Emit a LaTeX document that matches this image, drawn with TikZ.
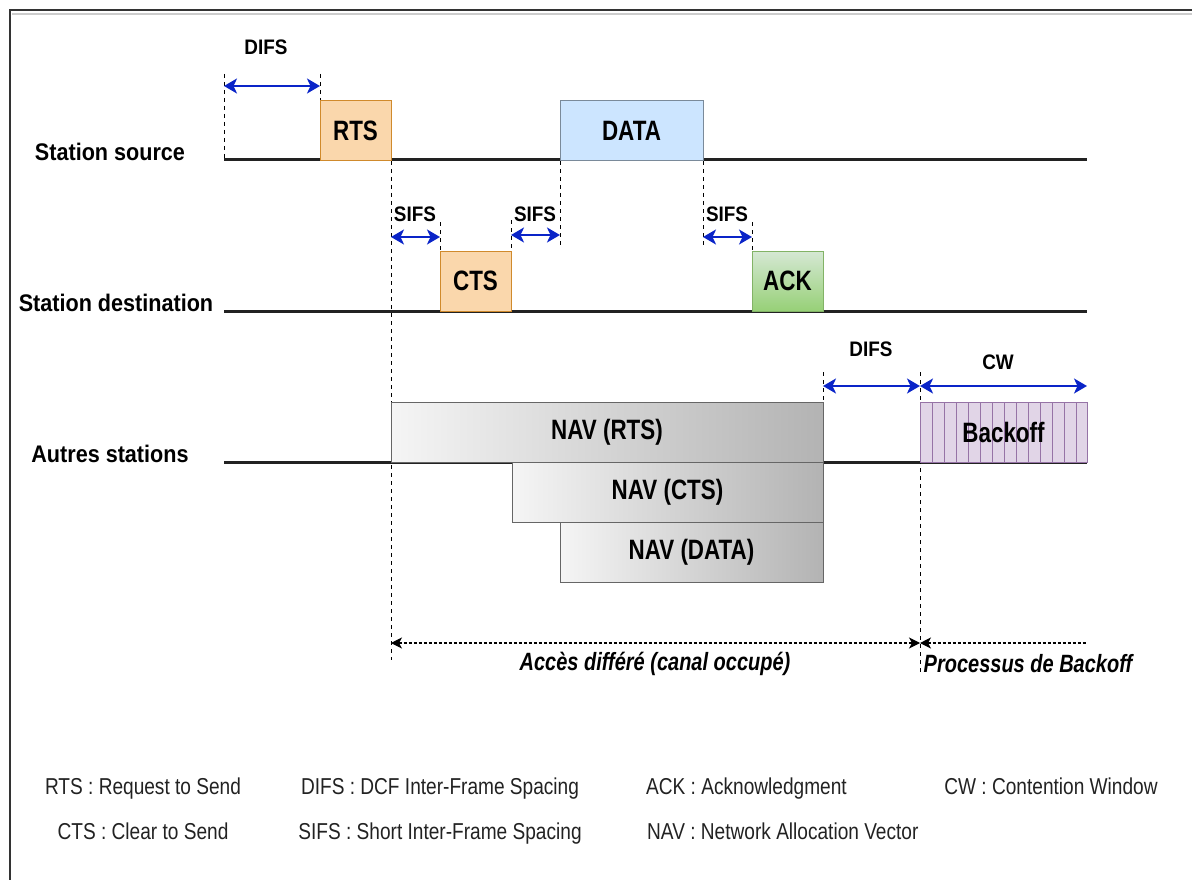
\documentclass[tikz,border=0pt]{standalone}
\usepackage{fontspec}
\setmainfont{Liberation Sans}[FakeStretch=0.9]
\newfontfamily\condfont{Liberation Sans}[FakeStretch=0.8]
\newfontfamily\legendfont{Liberation Sans}[FakeStretch=0.83]
\usetikzlibrary{arrows.meta}

\definecolor{orfill}{HTML}{FAD7AC}
\definecolor{ordraw}{HTML}{D08A2C}
\definecolor{blfill}{HTML}{CCE5FF}
\definecolor{bldraw}{HTML}{7A8A9A}
\definecolor{grtop}{HTML}{D5E8D4}
\definecolor{grbot}{HTML}{97D077}
\definecolor{grdraw}{HTML}{82B366}
\definecolor{navl}{HTML}{F5F5F5}
\definecolor{navr}{HTML}{B3B3B3}
\definecolor{navdraw}{HTML}{666666}
\definecolor{pufill}{HTML}{E1D5E7}
\definecolor{pudraw}{HTML}{9673A6}
\definecolor{arrowblue}{HTML}{0A24C8}
\definecolor{linedark}{HTML}{222222}
\definecolor{legendtxt}{HTML}{222222}

\begin{document}
\begin{tikzpicture}[x=1pt,y=-1pt,
  frame/.style={draw, line width=1pt, inner sep=0pt, outer sep=0pt,
    font=\condfont\bfseries\fontsize{28}{30}\selectfont},
  orbox/.style={frame, fill=orfill, draw=ordraw},
  navbox/.style={frame, left color=navl, right color=navr, draw=navdraw},
  timeline/.style={draw=linedark, line width=3pt},
  guide/.style={draw=black, line width=0.8pt, dash pattern=on 4pt off 4pt},
  span/.style={draw=arrowblue, line width=2pt,
    {Stealth[length=13pt,width=15pt,inset=3.5pt]}-{Stealth[length=13pt,width=15pt,inset=3.5pt]}},
  spanlbl/.style={font=\bfseries\fontsize{21}{24}\selectfont, inner sep=0pt},
  phase/.style={draw=black, line width=1.1pt, dash pattern=on 3pt off 2pt,
    >={Stealth[length=11pt,width=11pt,inset=3pt]}},
  phaselbl/.style={font=\condfont\bfseries\itshape\fontsize{25}{28}\selectfont, inner sep=0pt},
  station/.style={font=\bfseries\fontsize{24}{27}\selectfont, inner sep=0pt},
  legend/.style={text=legendtxt, font=\legendfont\fontsize{23}{26}\selectfont,
    inner sep=0pt, text height=17pt, text depth=5pt}
]
\useasboundingbox (0,0) rectangle (1192,880);

% outer frame
\coordinate (fa) at (12,14);  \coordinate (fb) at (1192,14);
\draw[line width=2pt, draw=black!20] (fa) -- (fb);
\coordinate (fc) at (10,10);  \coordinate (fd) at (1192,10);  \coordinate (fe) at (10,880);
\draw[line width=2pt, draw=black!80] (fd) -- (fc) -- (fe);

% station names
\node[station] (lsrc) at (110,152) {Station source};
\node[station] (ldst) at (116,303) {Station destination};
\node[station] (loth) at (110,454) {Autres stations};

% time axes
\coordinate (s0) at (224,160); \coordinate (s1) at (1087,160);
\coordinate (d0) at (224,311); \coordinate (d1) at (1087,311);
\coordinate (o0) at (224,462); \coordinate (o1) at (1087,462);
\draw[timeline] (s0) -- (s1);
\draw[timeline] (d0) -- (d1);
\draw[timeline] (o0) -- (o1);

% vertical guides
\coordinate (g1a) at (224,74);  \coordinate (g1b) at (224,160);
\coordinate (g2a) at (320,74);  \coordinate (g2b) at (320,101);
\coordinate (g3a) at (391,161); \coordinate (g3b) at (391,660);
\coordinate (g4a) at (440,222); \coordinate (g4b) at (440,251);
\coordinate (g5a) at (511,220); \coordinate (g5b) at (511,251);
\coordinate (g6a) at (560,161); \coordinate (g6b) at (560,248);
\coordinate (g7a) at (703,161); \coordinate (g7b) at (703,248);
\coordinate (g8a) at (752,222); \coordinate (g8b) at (752,251);
\coordinate (g9a) at (823,372); \coordinate (g9b) at (823,402);
\coordinate (g10a) at (920,372); \coordinate (g10b) at (920,672);
\foreach \g in {1,...,10} \draw[guide] (g\g a) -- (g\g b);

% frames
\node[orbox, minimum width=71pt, minimum height=60pt] (rts) at (355.5,131) {RTS};
\node[frame, fill=blfill, draw=bldraw, minimum width=143pt, minimum height=60pt] (data) at (631.5,131) {DATA};
\node[orbox, minimum width=71pt, minimum height=60pt] (cts) at (475.5,281) {CTS};
\node[frame, top color=grtop, bottom color=grbot, draw=grdraw, minimum width=71pt, minimum height=60pt] (ack) at (787.5,281) {ACK};

% NAV reservations
\node[navbox, minimum width=432pt, minimum height=60pt] (navrts) at (607,432) {NAV (RTS)};
\node[navbox, minimum width=311pt, minimum height=60pt] (navcts) at (667.5,492) {NAV (CTS)};
\node[navbox, minimum width=263pt, minimum height=60pt] (navdata) at (691.5,552) {NAV (DATA)};

% backoff slots
\node[frame, fill=pufill, draw=pudraw, minimum width=167pt, minimum height=60pt] (bo) at (1003.5,432) {};
\foreach \i in {1,...,13}
  \draw[draw=pudraw, line width=0.8pt] ([xshift=12*\i pt]bo.north west) -- ([xshift=12*\i pt]bo.south west);
\node[frame, draw=none, fill=none] (bolbl) at (bo.center) {Backoff};

% interframe spaces
\coordinate (a1a) at (224,86);  \coordinate (a1b) at (320,86);
\coordinate (a2a) at (391,237); \coordinate (a2b) at (440,237);
\coordinate (a3a) at (511,235); \coordinate (a3b) at (560,235);
\coordinate (a4a) at (703,237); \coordinate (a4b) at (752,237);
\coordinate (a5a) at (823,386); \coordinate (a5b) at (920,386);
\coordinate (a6a) at (920,386); \coordinate (a6b) at (1087,386);
\foreach \a in {1,...,6} \draw[span] (a\a a) -- (a\a b);
\node[spanlbl] (difs1) at (266,47) {DIFS};
\node[spanlbl] (sifs1) at (415,214) {SIFS};
\node[spanlbl] (sifs2) at (535,214) {SIFS};
\node[spanlbl] (sifs3) at (727,214) {SIFS};
\node[spanlbl] (difs2) at (871,349) {DIFS};
\node[spanlbl] (cw) at (998,362) {CW};

% phases
\coordinate (p1a) at (391,643); \coordinate (p1b) at (920,643);
\coordinate (p2a) at (920,643); \coordinate (p2b) at (1087,643);
\draw[phase, <->] (p1a) -- (p1b);
\draw[phase, <-] (p2a) -- (p2b);
\node[phaselbl] (ph1) at (655,664) {Accès différé (canal occupé)};
\node[phaselbl] (ph2) at (1028,664) {Processus de Backoff};

% legend
\node[legend] (k1) at (143,788) {RTS : Request to Send};
\node[legend] (k2) at (440,788) {DIFS : DCF Inter-Frame Spacing};
\node[legend, anchor=west] (k3) at (646,788) {ACK : Acknowledgment};
\node[legend] (k4) at (1051,788) {CW : Contention Window};
\node[legend] (k5) at (143,833) {CTS : Clear to Send};
\node[legend] (k6) at (440,833) {SIFS : Short Inter-Frame Spacing};
\node[legend, anchor=west] (k7) at (647,833) {NAV : Network Allocation Vector};
\end{tikzpicture}
\end{document}
